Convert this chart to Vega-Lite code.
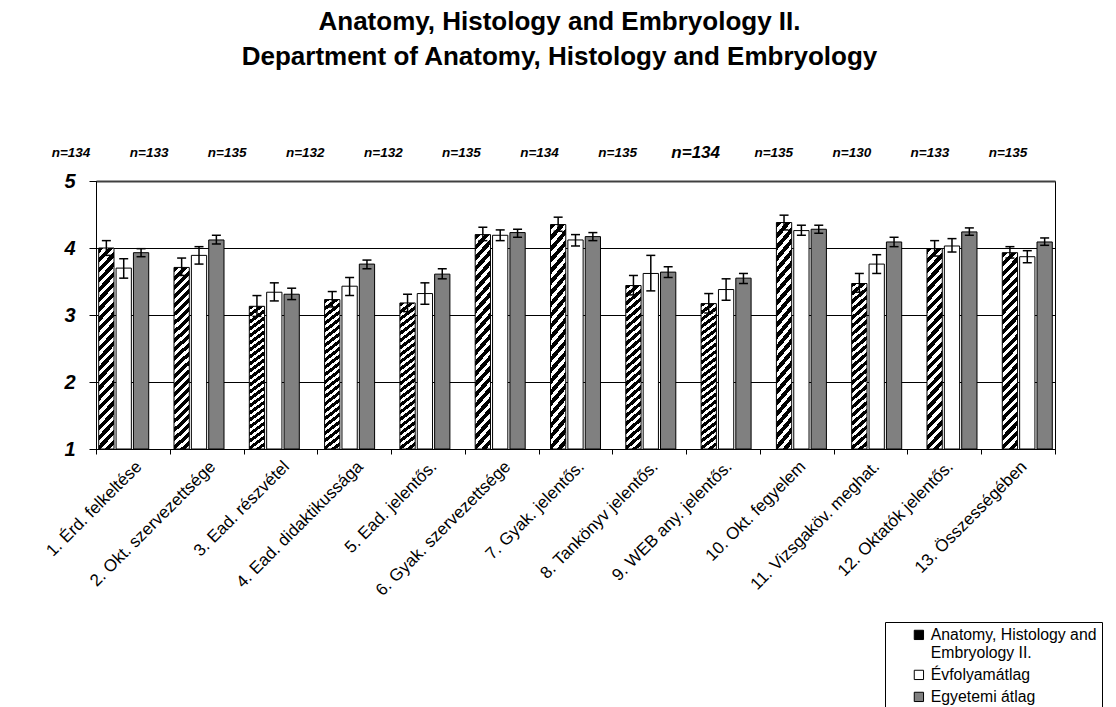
{
  "$schema": "https://vega.github.io/schema/vega-lite/v6.json",
  "width": 959,
  "height": 268,
  "autosize": "none",
  "padding": {"left": 96, "top": 181, "right": 61, "bottom": 258},
  "background": "#ffffff",
  "config": {
    "font": "Liberation Sans",
    "view": {"stroke": "#000000", "strokeWidth": 1}
  },
  "title": {
    "text": ["Anatomy, Histology and Embryology II.", "Department of Anatomy, Histology and Embryology"],
    "font": "Liberation Sans",
    "fontSize": 26,
    "fontWeight": "bold",
    "color": "#000000",
    "anchor": "middle",
    "frame": "group",
    "lineHeight": 35,
    "dx": -16,
    "offset": 74
  },
  "datasets": {
    "bars": [
      {"cat": "1. Érd. felkeltése", "series": "Anatomy, Histology and Embryology II.", "value": 4.00, "lo": 3.89, "hi": 4.11},
      {"cat": "1. Érd. felkeltése", "series": "Évfolyamátlag", "value": 3.70, "lo": 3.55, "hi": 3.84},
      {"cat": "1. Érd. felkeltése", "series": "Egyetemi átlag", "value": 3.93, "lo": 3.87, "hi": 3.99},
      {"cat": "2. Okt. szervezettsége", "series": "Anatomy, Histology and Embryology II.", "value": 3.71, "lo": 3.59, "hi": 3.85},
      {"cat": "2. Okt. szervezettsége", "series": "Évfolyamátlag", "value": 3.89, "lo": 3.76, "hi": 4.02},
      {"cat": "2. Okt. szervezettsége", "series": "Egyetemi átlag", "value": 4.12, "lo": 4.06, "hi": 4.19},
      {"cat": "3. Ead. részvétel", "series": "Anatomy, Histology and Embryology II.", "value": 3.13, "lo": 2.98, "hi": 3.29},
      {"cat": "3. Ead. részvétel", "series": "Évfolyamátlag", "value": 3.34, "lo": 3.21, "hi": 3.48},
      {"cat": "3. Ead. részvétel", "series": "Egyetemi átlag", "value": 3.31, "lo": 3.23, "hi": 3.40},
      {"cat": "4. Ead. didaktikussága", "series": "Anatomy, Histology and Embryology II.", "value": 3.23, "lo": 3.12, "hi": 3.35},
      {"cat": "4. Ead. didaktikussága", "series": "Évfolyamátlag", "value": 3.43, "lo": 3.29, "hi": 3.56},
      {"cat": "4. Ead. didaktikussága", "series": "Egyetemi átlag", "value": 3.76, "lo": 3.69, "hi": 3.82},
      {"cat": "5. Ead. jelentős.", "series": "Anatomy, Histology and Embryology II.", "value": 3.18, "lo": 3.05, "hi": 3.31},
      {"cat": "5. Ead. jelentős.", "series": "Évfolyamátlag", "value": 3.32, "lo": 3.16, "hi": 3.48},
      {"cat": "5. Ead. jelentős.", "series": "Egyetemi átlag", "value": 3.61, "lo": 3.54, "hi": 3.69},
      {"cat": "6. Gyak. szervezettsége", "series": "Anatomy, Histology and Embryology II.", "value": 4.20, "lo": 4.11, "hi": 4.31},
      {"cat": "6. Gyak. szervezettsége", "series": "Évfolyamátlag", "value": 4.19, "lo": 4.11, "hi": 4.27},
      {"cat": "6. Gyak. szervezettsége", "series": "Egyetemi átlag", "value": 4.23, "lo": 4.16, "hi": 4.28},
      {"cat": "7. Gyak. jelentős.", "series": "Anatomy, Histology and Embryology II.", "value": 4.35, "lo": 4.25, "hi": 4.46},
      {"cat": "7. Gyak. jelentős.", "series": "Évfolyamátlag", "value": 4.12, "lo": 4.03, "hi": 4.20},
      {"cat": "7. Gyak. jelentős.", "series": "Egyetemi átlag", "value": 4.17, "lo": 4.11, "hi": 4.23},
      {"cat": "8. Tankönyv jelentős.", "series": "Anatomy, Histology and Embryology II.", "value": 3.44, "lo": 3.30, "hi": 3.59},
      {"cat": "8. Tankönyv jelentős.", "series": "Évfolyamátlag", "value": 3.62, "lo": 3.36, "hi": 3.89},
      {"cat": "8. Tankönyv jelentős.", "series": "Egyetemi átlag", "value": 3.64, "lo": 3.56, "hi": 3.72},
      {"cat": "9. WEB any. jelentős.", "series": "Anatomy, Histology and Embryology II.", "value": 3.17, "lo": 3.03, "hi": 3.32},
      {"cat": "9. WEB any. jelentős.", "series": "Évfolyamátlag", "value": 3.38, "lo": 3.22, "hi": 3.54},
      {"cat": "9. WEB any. jelentős.", "series": "Egyetemi átlag", "value": 3.55, "lo": 3.47, "hi": 3.62},
      {"cat": "10. Okt. fegyelem", "series": "Anatomy, Histology and Embryology II.", "value": 4.38, "lo": 4.27, "hi": 4.49},
      {"cat": "10. Okt. fegyelem", "series": "Évfolyamátlag", "value": 4.26, "lo": 4.19, "hi": 4.34},
      {"cat": "10. Okt. fegyelem", "series": "Egyetemi átlag", "value": 4.28, "lo": 4.22, "hi": 4.34},
      {"cat": "11. Vizsgaköv. meghat.", "series": "Anatomy, Histology and Embryology II.", "value": 3.47, "lo": 3.34, "hi": 3.62},
      {"cat": "11. Vizsgaköv. meghat.", "series": "Évfolyamátlag", "value": 3.76, "lo": 3.62, "hi": 3.90},
      {"cat": "11. Vizsgaköv. meghat.", "series": "Egyetemi átlag", "value": 4.09, "lo": 4.02, "hi": 4.16},
      {"cat": "12. Oktatók jelentős.", "series": "Anatomy, Histology and Embryology II.", "value": 3.99, "lo": 3.88, "hi": 4.11},
      {"cat": "12. Oktatók jelentős.", "series": "Évfolyamátlag", "value": 4.03, "lo": 3.94, "hi": 4.14},
      {"cat": "12. Oktatók jelentős.", "series": "Egyetemi átlag", "value": 4.24, "lo": 4.19, "hi": 4.30},
      {"cat": "13. Összességében", "series": "Anatomy, Histology and Embryology II.", "value": 3.93, "lo": 3.85, "hi": 4.02},
      {"cat": "13. Összességében", "series": "Évfolyamátlag", "value": 3.87, "lo": 3.78, "hi": 3.96},
      {"cat": "13. Összességében", "series": "Egyetemi átlag", "value": 4.09, "lo": 4.04, "hi": 4.15}
    ],
    "ncount": [
      {"cat": "1. Érd. felkeltése", "label": "n=134"},
      {"cat": "2. Okt. szervezettsége", "label": "n=133"},
      {"cat": "3. Ead. részvétel", "label": "n=135"},
      {"cat": "4. Ead. didaktikussága", "label": "n=132"},
      {"cat": "5. Ead. jelentős.", "label": "n=132"},
      {"cat": "6. Gyak. szervezettsége", "label": "n=135"},
      {"cat": "7. Gyak. jelentős.", "label": "n=134"},
      {"cat": "8. Tankönyv jelentős.", "label": "n=135"},
      {"cat": "9. WEB any. jelentős.", "label": "n=134"},
      {"cat": "10. Okt. fegyelem", "label": "n=135"},
      {"cat": "11. Vizsgaköv. meghat.", "label": "n=130"},
      {"cat": "12. Oktatók jelentős.", "label": "n=133"},
      {"cat": "13. Összességében", "label": "n=135"}
    ]
  },
  "layer": [
    {
      "data": {"name": "bars"},
      "mark": {"type": "rule", "strokeOpacity": 0},
      "encoding": {
        "x": {
          "field": "cat", "type": "nominal", "sort": null,
          "scale": {"type": "band", "paddingInner": 0, "paddingOuter": 0},
          "axis": {
            "orient": "bottom", "title": null, "tickBand": "extent", "labelAngle": -45,
            "labelFont": "Liberation Sans", "labelFontSize": 17, "labelColor": "#000000",
            "labelPadding": 4, "labelLimit": 400, "labelOverlap": false,
            "tickSize": 5, "tickColor": "#000000", "domainColor": "#000000", "grid": false
          }
        }
      }
    },
    {
      "data": {"name": "bars"},
      "mark": {"type": "bar", "stroke": "#000000", "strokeWidth": 1},
      "encoding": {
        "x": {
          "field": "cat", "type": "nominal", "sort": null,
          "scale": {"type": "band", "paddingInner": 0.336, "paddingOuter": 0.036},
          "axis": null
        },
        "xOffset": {
          "field": "series", "type": "nominal",
          "scale": {"domain": ["Anatomy, Histology and Embryology II.", "Évfolyamátlag", "Egyetemi átlag"], "paddingInner": 0.12, "paddingOuter": 0}
        },
        "y": {
          "field": "value", "type": "quantitative",
          "scale": {"domain": [1, 5], "nice": false, "zero": false},
          "axis": {
            "title": null, "values": [1, 2, 3, 4, 5], "format": "d",
            "grid": true,
            "gridColor": {"condition": {"test": "datum.value === 5", "value": "#404040"}, "value": "#000000"},
            "gridWidth": {"condition": {"test": "datum.value === 5", "value": 2}, "value": 1},
            "domainColor": "#000000", "tickColor": "#000000", "tickSize": 7,
            "labelFont": "Liberation Sans", "labelFontSize": 20, "labelFontWeight": "bold", "labelFontStyle": "italic",
            "labelColor": "#000000", "labelPadding": 14
          }
        },
        "y2": {"datum": 1},
        "fill": {
          "condition": {
            "test": "datum.series === 'Anatomy, Histology and Embryology II.'",
            "value": {
              "gradient": "linear", "x1": 0, "y1": 0, "x2": 0.0858, "y2": 1.0731,
              "stops": [
                {"offset": 0, "color": "#000000"}, {"offset": 0.025, "color": "#000000"}, {"offset": 0.025, "color": "#ffffff"}, {"offset": 0.0455, "color": "#ffffff"},
                {"offset": 0.0455, "color": "#000000"}, {"offset": 0.0705, "color": "#000000"}, {"offset": 0.0705, "color": "#ffffff"}, {"offset": 0.0909, "color": "#ffffff"},
                {"offset": 0.0909, "color": "#000000"}, {"offset": 0.1159, "color": "#000000"}, {"offset": 0.1159, "color": "#ffffff"}, {"offset": 0.1364, "color": "#ffffff"},
                {"offset": 0.1364, "color": "#000000"}, {"offset": 0.1614, "color": "#000000"}, {"offset": 0.1614, "color": "#ffffff"}, {"offset": 0.1818, "color": "#ffffff"},
                {"offset": 0.1818, "color": "#000000"}, {"offset": 0.2068, "color": "#000000"}, {"offset": 0.2068, "color": "#ffffff"}, {"offset": 0.2273, "color": "#ffffff"},
                {"offset": 0.2273, "color": "#000000"}, {"offset": 0.2523, "color": "#000000"}, {"offset": 0.2523, "color": "#ffffff"}, {"offset": 0.2727, "color": "#ffffff"},
                {"offset": 0.2727, "color": "#000000"}, {"offset": 0.2977, "color": "#000000"}, {"offset": 0.2977, "color": "#ffffff"}, {"offset": 0.3182, "color": "#ffffff"},
                {"offset": 0.3182, "color": "#000000"}, {"offset": 0.3432, "color": "#000000"}, {"offset": 0.3432, "color": "#ffffff"}, {"offset": 0.3636, "color": "#ffffff"},
                {"offset": 0.3636, "color": "#000000"}, {"offset": 0.3886, "color": "#000000"}, {"offset": 0.3886, "color": "#ffffff"}, {"offset": 0.4091, "color": "#ffffff"},
                {"offset": 0.4091, "color": "#000000"}, {"offset": 0.4341, "color": "#000000"}, {"offset": 0.4341, "color": "#ffffff"}, {"offset": 0.4545, "color": "#ffffff"},
                {"offset": 0.4545, "color": "#000000"}, {"offset": 0.4795, "color": "#000000"}, {"offset": 0.4795, "color": "#ffffff"}, {"offset": 0.5, "color": "#ffffff"},
                {"offset": 0.5, "color": "#000000"}, {"offset": 0.525, "color": "#000000"}, {"offset": 0.525, "color": "#ffffff"}, {"offset": 0.5455, "color": "#ffffff"},
                {"offset": 0.5455, "color": "#000000"}, {"offset": 0.5705, "color": "#000000"}, {"offset": 0.5705, "color": "#ffffff"}, {"offset": 0.5909, "color": "#ffffff"},
                {"offset": 0.5909, "color": "#000000"}, {"offset": 0.6159, "color": "#000000"}, {"offset": 0.6159, "color": "#ffffff"}, {"offset": 0.6364, "color": "#ffffff"},
                {"offset": 0.6364, "color": "#000000"}, {"offset": 0.6614, "color": "#000000"}, {"offset": 0.6614, "color": "#ffffff"}, {"offset": 0.6818, "color": "#ffffff"},
                {"offset": 0.6818, "color": "#000000"}, {"offset": 0.7068, "color": "#000000"}, {"offset": 0.7068, "color": "#ffffff"}, {"offset": 0.7273, "color": "#ffffff"},
                {"offset": 0.7273, "color": "#000000"}, {"offset": 0.7523, "color": "#000000"}, {"offset": 0.7523, "color": "#ffffff"}, {"offset": 0.7727, "color": "#ffffff"},
                {"offset": 0.7727, "color": "#000000"}, {"offset": 0.7977, "color": "#000000"}, {"offset": 0.7977, "color": "#ffffff"}, {"offset": 0.8182, "color": "#ffffff"},
                {"offset": 0.8182, "color": "#000000"}, {"offset": 0.8432, "color": "#000000"}, {"offset": 0.8432, "color": "#ffffff"}, {"offset": 0.8636, "color": "#ffffff"},
                {"offset": 0.8636, "color": "#000000"}, {"offset": 0.8886, "color": "#000000"}, {"offset": 0.8886, "color": "#ffffff"}, {"offset": 0.9091, "color": "#ffffff"},
                {"offset": 0.9091, "color": "#000000"}, {"offset": 0.9341, "color": "#000000"}, {"offset": 0.9341, "color": "#ffffff"}, {"offset": 0.9545, "color": "#ffffff"},
                {"offset": 0.9545, "color": "#000000"}, {"offset": 0.9795, "color": "#000000"}, {"offset": 0.9795, "color": "#ffffff"}, {"offset": 1, "color": "#ffffff"}
              ]
            }
          },
          "field": "series", "type": "nominal",
          "scale": {
            "domain": ["Anatomy, Histology and Embryology II.", "Évfolyamátlag", "Egyetemi átlag"],
            "range": ["#000000", "#ffffff", "#808080"]
          },
          "legend": {
            "orient": "none", "legendX": 789, "legendY": 441,
            "title": null, "strokeColor": "#000000", "fillColor": "#ffffff", "padding": 5,
            "labelFont": "Liberation Sans", "labelFontSize": 15.8, "labelColor": "#000000", "labelLimit": 400,
            "labelOffset": 4,
            "symbolType": "square", "symbolSize": 86, "symbolStrokeColor": "#000000", "symbolStrokeWidth": 1,
            "symbolOffset": 21, "rowPadding": 5,
            "labelExpr": "datum.label === 'Anatomy, Histology and Embryology II.' ? ['Anatomy, Histology and', 'Embryology II.'] : datum.label",
            "encode": {
              "symbols": {
                "update": {
                  "fill": [
                    {
                      "test": "datum.value === 'Anatomy, Histology and Embryology II.'",
                      "value": {"gradient": "linear", "x1": 0, "y1": 1, "x2": 1, "y2": 0, "stops": [{"offset": 0, "color": "#000000"}, {"offset": 0.5, "color": "#000000"}, {"offset": 0.5, "color": "#ffffff"}, {"offset": 1, "color": "#ffffff"}]}
                    },
                    {"scale": "fill", "field": "value"}
                  ],
                  "stroke": {"value": "#000000"},
                  "strokeWidth": {"value": 1},
                  "opacity": {"value": 1}
                }
              }
            }
          }
        }
      }
    },
    {
      "data": {"name": "bars"},
      "mark": {"type": "rule", "color": "#000000", "strokeWidth": 1.5},
      "encoding": {
        "x": {"field": "cat", "type": "nominal", "sort": null, "scale": {"type": "band", "paddingInner": 0.336, "paddingOuter": 0.036}, "axis": null},
        "xOffset": {"field": "series", "type": "nominal"},
        "y": {"field": "lo", "type": "quantitative"},
        "y2": {"field": "hi"}
      }
    },
    {
      "data": {"name": "bars"},
      "mark": {"type": "tick", "orient": "horizontal", "size": 9, "thickness": 1.5, "color": "#000000", "opacity": 1},
      "encoding": {
        "x": {"field": "cat", "type": "nominal", "sort": null, "scale": {"type": "band", "paddingInner": 0.336, "paddingOuter": 0.036}, "axis": null},
        "xOffset": {"field": "series", "type": "nominal"},
        "y": {"field": "lo", "type": "quantitative"}
      }
    },
    {
      "data": {"name": "bars"},
      "mark": {"type": "tick", "orient": "horizontal", "size": 9, "thickness": 1.5, "color": "#000000", "opacity": 1},
      "encoding": {
        "x": {"field": "cat", "type": "nominal", "sort": null, "scale": {"type": "band", "paddingInner": 0.336, "paddingOuter": 0.036}, "axis": null},
        "xOffset": {"field": "series", "type": "nominal"},
        "y": {"field": "hi", "type": "quantitative"}
      }
    },
    {
      "data": {"name": "ncount"},
      "mark": {"type": "text", "font": "Liberation Sans", "fontWeight": "bold", "fontStyle": "italic", "color": "#000000", "align": "center", "baseline": "middle"},
      "encoding": {
        "x": {"field": "cat", "type": "nominal", "sort": null, "scale": {"type": "point", "padding": 0, "range": [-25, 912]}, "axis": null},
        "y": {"datum": 5.42, "type": "quantitative"},
        "text": {"field": "label"},
        "size": {"condition": {"test": "datum.cat === '9. WEB any. jelentős.'", "value": 17}, "value": 13.5}
      }
    }
  ],
  "resolve": {"scale": {"x": "independent"}}
}
